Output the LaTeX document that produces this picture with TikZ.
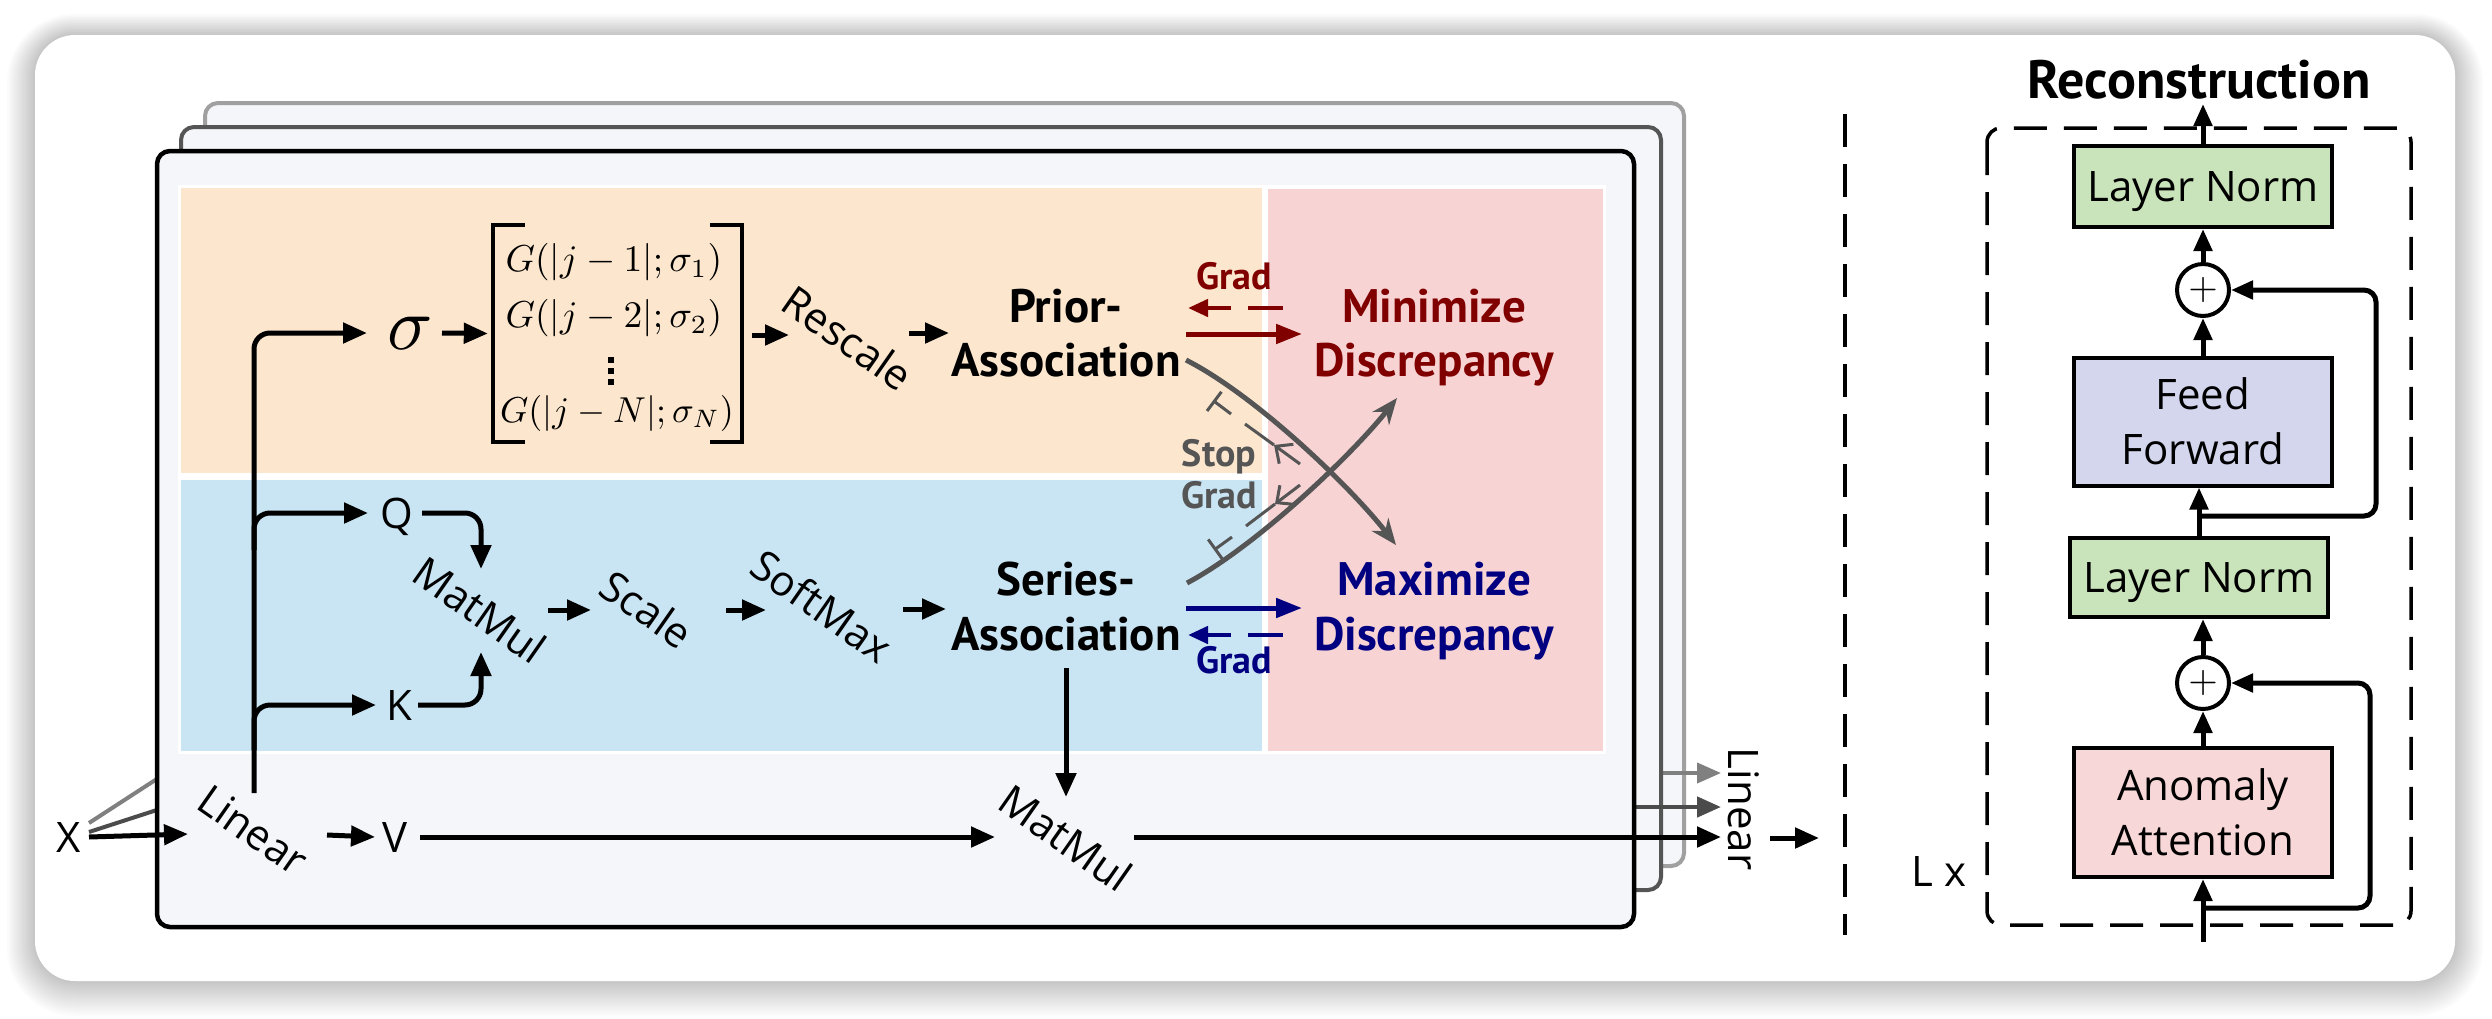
\documentclass[tikz,border=0pt]{standalone}
\usepackage{fontspec}
\usepackage{amsmath}
\usepackage{graphicx}
\usetikzlibrary{arrows.meta,calc}
\newfontfamily\osans{Open Sans}
\newfontfamily\ptsans{PT Sans}
\definecolor{framefill}{RGB}{244,246,250}
\definecolor{orangebg}{RGB}{252,231,206}
\definecolor{bluebg}{RGB}{201,229,243}
\definecolor{pinkbg}{RGB}{247,211,212}
\definecolor{greenbox}{RGB}{201,227,186}
\definecolor{lavbox}{RGB}{211,214,236}
\definecolor{pinkbox}{RGB}{247,215,215}
\definecolor{dred}{RGB}{128,0,0}
\definecolor{navyc}{RGB}{0,0,128}
\definecolor{cgray}{RGB}{85,85,85}
\definecolor{fgrayL}{RGB}{160,160,160}
\definecolor{fgrayD}{RGB}{85,85,85}
\definecolor{xgrayL}{RGB}{128,128,128}
\definecolor{xgrayD}{RGB}{75,75,75}
\tikzset{
  lbl/.style={font=\osans\fontsize{42}{50}\selectfont, inner sep=0pt},
  rlbl/.style={lbl, rotate=-35},
  blbl/.style={font=\ptsans\bfseries\fontsize{47}{56}\selectfont, inner sep=0pt, anchor=base},
  glbl/.style={font=\ptsans\bfseries\fontsize{38}{44}\selectfont, inner sep=0pt, anchor=base},
  mrow/.style={inner sep=0pt},
  arr/.style={line width=5pt, -{Triangle[length=24pt,width=20pt]}},
  arrs/.style={line width=5pt, -{Triangle[length=22pt,width=18pt]}},
  stackframe/.style={fill=framefill, rounded corners=13pt, line width=4pt},
  curv/.style={cgray, line width=5pt, -{Stealth[length=26pt,width=21pt]}},
  stopln/.style={cgray, line width=3pt},
  gradsolid/.style={line width=5pt, -{Triangle[length=26pt,width=19pt]}},
  graddash/.style={line width=4.5pt, dash pattern=on 35pt off 17pt on 200pt off 10pt, -{Triangle[length=20pt,width=17pt]}},
  blk/.style={draw, line width=4pt, minimum width=258pt, inner sep=0pt, font=\osans\fontsize{42}{55}\selectfont, align=center},
  pluss/.style={circle, draw, fill=white, line width=4pt, minimum size=52pt, inner sep=0pt},
  dashbox/.style={dash pattern=on 33pt off 17pt, line width=3.5pt},
}
\begin{document}
\begin{tikzpicture}[x=1pt,y=-1pt]
\useasboundingbox (0,0) rectangle (2492,1018);
\fill[white] (0,0) rectangle (2492,1018);
\foreach \i in {1,...,14}{
  \pgfmathsetmacro{\rr}{40+2*\i}
  \fill[black,opacity=0.017,rounded corners=\rr pt] (35-2*\i,35-1.5*\i) rectangle (2455+2*\i,981+2.5*\i);
}
\fill[white,rounded corners=40pt] (35,35) rectangle (2455,981);

\node[lbl,anchor=base] (xn) at (69,852) {X};
\node[lbl,rotate=-90] (lin2) at (1744,809) {Linear};

% stacked frames
\draw[stackframe,draw=fgrayL] (205,103) rectangle (1684,866);
\draw[line width=4pt,xgrayL] ($(xn.base)+(20,-29)$) -- ($(xn.base)+(131,-101)$);
\draw[line width=4pt,xgrayL,-{Triangle[length=24pt,width=20pt]}] ($(lin2)+(-104,-36)$) -- ($(lin2)+(-23,-36)$);
\draw[stackframe,draw=fgrayD] (181,127) rectangle (1661,890);
\draw[line width=4pt,xgrayD] ($(xn.base)+(20,-20)$) -- ($(xn.base)+(131,-56)$);
\draw[line width=4.5pt,xgrayD,-{Triangle[length=24pt,width=20pt]}] ($(lin2)+(-124,-2)$) -- ($(lin2)+(-23,-2)$);
\draw[stackframe,draw=black,line width=4.5pt] (157,151) rectangle (1634,927);

% regions
\fill[white] (178,185) rectangle (1606,754);
\fill[orangebg] (181,188) rectangle (1262,473);
\fill[bluebg] (181,480) rectangle (1262,751);
\fill[pinkbg] (1268,189) rectangle (1603,751);

% nodes
\node[rlbl] (lin1) at (253,830) {Linear};
\node[lbl,anchor=base] (vn) at (395,852) {V};
\node[lbl,anchor=base] (qn) at (397,528) {Q};
\node[lbl,anchor=base] (kn) at (399,720) {K};
\node[inner sep=0pt] (sig) at (410,333) {\scalebox{7.5}{$\sigma$}};
\node[minimum width=249pt,minimum height=217pt,inner sep=0pt] (mat) at (617.5,333.5) {};
\node[mrow] (g1) at (614,262) {\scalebox{3.75}{$G(|j-1|;\sigma_1)$}};
\node[mrow] (g2) at (614,318) {\scalebox{3.75}{$G(|j-2|;\sigma_2)$}};
\node[mrow] (gn) at (617,413) {\scalebox{3.6}{$G(|j-N|;\sigma_N)$}};
\coordinate (gd) at (611,371);
\foreach \dy in {-11,0,11}{
  \fill ($(gd)+(-3,\dy-3)$) rectangle ($(gd)+(3,\dy+3)$);
}
\draw[line width=4.5pt] ($(mat.north west)+(32,0)$) -- (mat.north west) -- (mat.south west) -- ++(32,0);
\draw[line width=4.5pt] ($(mat.north east)+(-32,0)$) -- (mat.north east) -- (mat.south east) -- ++(-32,0);
\node[rlbl] (resc) at (848,338) {Rescale};
\node[blbl] (pr1) at (1066,322) {Prior-};
\node[blbl] (pr2) at (1066,376) {Association};
\node[rlbl] (mm1) at (480,610) {MatMul};
\node[rlbl] (scl) at (647,609) {Scale};
\node[rlbl] (smx) at (822,606) {SoftMax};
\node[blbl] (se1) at (1066,595) {Series-};
\node[blbl] (se2) at (1066,650) {Association};
\node[blbl,text=dred] (mi1) at (1434,322) {Minimize};
\node[blbl,text=dred] (mi2) at (1434,376) {Discrepancy};
\node[blbl,text=navyc] (ma1) at (1434,595) {Maximize};
\node[blbl,text=navyc] (ma2) at (1434,650) {Discrepancy};
\node[glbl,text=dred] (gr1) at (1234,289) {Grad};
\node[glbl,text=navyc] (gr2) at (1234,673) {Grad};
\node[glbl,text=cgray] (st1) at (1219,466) {Stop};
\node[glbl,text=cgray] (st2) at (1219,508) {Grad};
\node[rlbl] (mm2) at (1066,838) {MatMul};

% bottom row connectors
\draw[arr] ($(xn.base)+(20,-15)$) -- ($(lin1)+(-65,4)$);
\draw[arr] ($(lin1)+(74,5)$) -- ($(vn.base)+(-20,-15)$);
\draw[arr] ($(vn.base)+(25,-15)$) -- ($(mm2)+(-71,-1)$);
\draw[arr] ($(se2.base)+(0,18)$) -- ($(mm2)+(0,-41)$);
\draw[arr] ($(mm2)+(68,-1)$) -- ($(lin2)+(-23,28)$);
\coordinate (outc) at (1819,838);
\draw[arr] ($(lin2)+(26,29)$) -- (outc);
% trunk and branches
\draw[arr,rounded corners=16pt] ($(lin1)+(1,-37)$) |- ($(sig)+(-43,0)$);
\draw[arr,rounded corners=16pt] ($(lin1)+(1,-280)$) |- ($(qn.base)+(-29,-15)$);
\draw[arr,rounded corners=16pt] ($(lin1)+(1,-80)$) |- ($(kn.base)+(-23,-15)$);
\draw[arr,rounded corners=16pt] ($(qn.base)+(25,-15)$) -| ($(mm1)+(1,-41)$);
\draw[arr,rounded corners=16pt] ($(kn.base)+(19,-15)$) -| ($(mm1)+(1,42)$);
% top row
\draw[arr] ($(sig)+(32,0)$) -- ($(mat.west)+(-5,0)$);
\draw[arr] ($(mat.east)+(10,1.5)$) -- ($(resc)+(-59,-3)$);
\draw[arr] ($(resc)+(61,-5)$) -- ($(pr2.base)+(-117,-43)$);
% blue row
\draw[arr] ($(mm1)+(68,0)$) -- ($(scl)+(-56,1)$);
\draw[arr] ($(scl)+(79,1)$) -- ($(smx)+(-56,4)$);
\draw[arr] ($(smx)+(81,3)$) -- ($(se2.base)+(-120,-41)$);
% grad arrows
\draw[gradsolid,dred] ($(pr2.base)+(120,-42)$) -- ($(mi2.base)+(-132,-42)$);
\draw[graddash,dred] ($(mi1.base)+(-151,-14)$) -- ($(pr1.base)+(122,-14)$);
\draw[gradsolid,navyc] ($(se1.base)+(120,13)$) -- ($(ma1.base)+(-132,13)$);
\draw[graddash,navyc] ($(ma2.base)+(-151,-15)$) -- ($(se2.base)+(122,-15)$);
% crossing curves
\draw[curv] ($(pr2.base)+(120,-16)$) .. controls (1255,395) and (1350,486) .. ($(ma1.base)+(-38,-50)$);
\draw[curv] ($(se1.base)+(121,-12)$) .. controls (1255,547) and (1351,456) .. ($(mi2.base)+(-37,22)$);
% stop-grad markers
\coordinate (sa0) at (1300,464);
\coordinate (sa1) at (1274,445);
\coordinate (sa2) at (1245,424);
\coordinate (sa3) at (1231,414);
\coordinate (sa4) at (1213,400.5);
\draw[stopln,-{Straight Barb[length=13pt,width=24pt]}] (sa0) -- (sa1);
\draw[stopln] (sa1) -- (sa2);
\draw[stopln,-{Bar[width=24pt]}] (sa3) -- (sa4);
\coordinate (sb0) at (1300,485);
\coordinate (sb1) at (1275,504);
\coordinate (sb2) at (1246,526);
\coordinate (sb3) at (1232,537);
\coordinate (sb4) at (1214,550);
\draw[stopln,-{Straight Barb[length=13pt,width=24pt]}] (sb0) -- (sb1);
\draw[stopln] (sb1) -- (sb2);
\draw[stopln,-{Bar[width=24pt]}] (sb3) -- (sb4);

% right panel
\draw[dashbox] (1845,114) -- (1845,935);
\draw[dashbox,rounded corners=14pt] (1987,128) rectangle (2411,925);
\node[font=\ptsans\bfseries\fontsize{54}{62}\selectfont,anchor=base,inner sep=0pt] (recon) at (2199,98) {Reconstruction};
\node[blk,fill=greenbox,minimum height=81pt,text height=29pt,text depth=0pt] (ln1) at (2203,186.5) {Layer Norm};
\node[pluss] (p1) at (2203,290) {\scalebox{3.8}{$+$}};
\node[blk,fill=lavbox,minimum height=128pt] (ff) at (2203,421.5) {Feed\\Forward};
\node[blk,fill=greenbox,minimum height=79pt,text height=29pt,text depth=0pt] (ln2) at (2199,577.5) {Layer Norm};
\node[pluss] (p2) at (2203,683) {\scalebox{3.8}{$+$}};
\node[blk,fill=pinkbox,minimum height=129pt] (aa) at (2203,812.5) {Anomaly\\Attention};
\node[lbl,anchor=base] (lx) at (1939,886) {L x};
\coordinate (inp) at (2203,942);
\draw[arrs] (ln1.north) -- ($(recon.base)+(4,6)$);
\draw[arrs] (p1.north) -- (ln1.south);
\draw[arrs] (ff.north) -- (p1.south);
\draw[arrs] (ln2.north) -- (ln2.north |- ff.south);
\draw[arrs,rounded corners=12pt] ($(ln2.north)+(0,-20)$) -| ($(p1.east)+(145,0)$) -- (p1.east);
\draw[arrs] (p2.north) -- (p2.north |- ln2.south);
\draw[arrs] (aa.north) -- (p2.south);
\draw[arrs] (inp) -- (aa.south);
\draw[arrs,rounded corners=12pt] ($(aa.south)+(0,29)$) -| ($(p2.east)+(139,0)$) -- (p2.east);
\end{tikzpicture}
\end{document}
